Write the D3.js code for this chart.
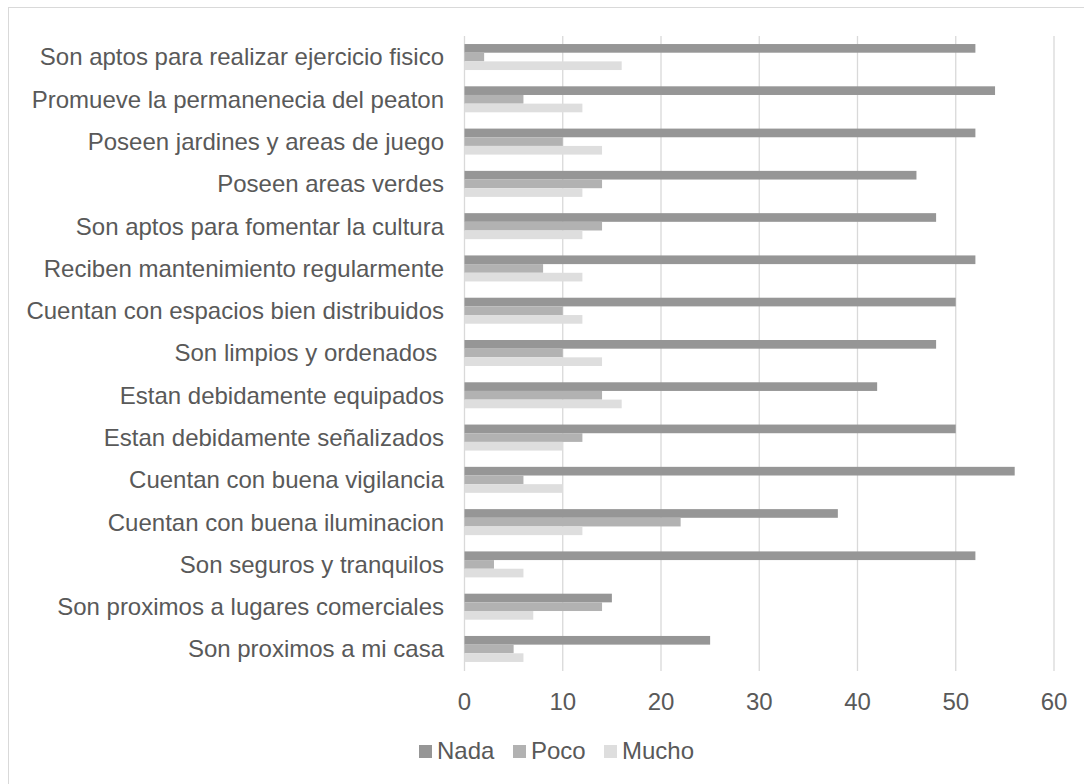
<!DOCTYPE html>
<html><head><meta charset="utf-8">
<script src="https://cdn.jsdelivr.net/npm/d3@7"></script>
<style>body{margin:0;background:#fff}text{font-family:"Liberation Sans",Arial,sans-serif;fill:#595959}</style>
</head><body><svg id="c" width="1084" height="784"></svg>
<script>
const categories = ["Son aptos para realizar ejercicio fisico","Promueve la permanenecia del peaton","Poseen jardines y areas de juego","Poseen areas verdes","Son aptos para fomentar la cultura","Reciben mantenimiento regularmente","Cuentan con espacios bien distribuidos","Son limpios y ordenados ","Estan debidamente equipados","Estan debidamente señalizados","Cuentan con buena vigilancia","Cuentan con buena iluminacion","Son seguros y tranquilos","Son proximos a lugares comerciales","Son proximos a mi casa"];
const nada  = [52,54,52,46,48,52,50,48,42,50,56,38,52,15,25];
const poco  = [2,6,10,14,14,8,10,10,14,12,6,22,3,14,5];
const mucho = [16,12,14,12,12,12,12,14,16,10,10,12,6,7,6];
const seriesNames = ["Nada","Poco","Mucho"];
const ticks = [0,10,20,30,40,50,60];
const colors = ["#969696","#b2b2b2","#dedede"];
const seriesVals = [nada,poco,mucho];

const svg = d3.select("#c");
svg.append("rect").attr("x",8.5).attr("y",7.5).attr("width",1200).attr("height",900).attr("fill","#fff").attr("stroke","#d9d9d9");

const x = d3.scaleLinear().domain([0,60]).range([464.5,1054]);
const y = d3.scaleBand().domain(categories).range([36,670]).paddingInner(0.385).paddingOuter(0.19);
const yi = d3.scaleBand().domain(seriesNames).range([0,y.bandwidth()]);

svg.append("g").selectAll("line").data(ticks).join("line")
  .attr("x1",d=>x(d)).attr("x2",d=>x(d)).attr("y1",36).attr("y2",671)
  .attr("stroke","#d9d9d9").attr("stroke-width",1.3);

const g = svg.append("g");
seriesNames.forEach((s,si)=>{
  g.append("g").selectAll("rect").data(categories).join("rect")
   .attr("x",x(0)).attr("y",(c)=>y(c)+yi(s))
   .attr("width",(c,i)=>x(seriesVals[si][i])-x(0))
   .attr("height",yi.bandwidth())
   .attr("fill",colors[si]);
});

svg.append("g").selectAll("text").data(categories).join("text")
  .attr("x",444).attr("y",c=>y(c)+y.bandwidth()/2).attr("dy","0.35em")
  .attr("text-anchor","end").attr("font-size",24).style("white-space","pre").text(c=>c);

svg.append("g").selectAll("text").data(ticks).join("text")
  .attr("x",d=>x(d)).attr("y",702).attr("dy","0.35em").attr("text-anchor","middle")
  .attr("font-size",24).text(d=>d);

const lx = [419,513,604];
const lg = svg.append("g");
seriesNames.forEach((s,i)=>{
  lg.append("rect").attr("x",lx[i]).attr("y",745).attr("width",13).attr("height",13).attr("fill",colors[i]);
  lg.append("text").attr("x",lx[i]+18).attr("y",751).attr("dy","0.35em").attr("font-size",24).text(s);
});
</script></body></html>
